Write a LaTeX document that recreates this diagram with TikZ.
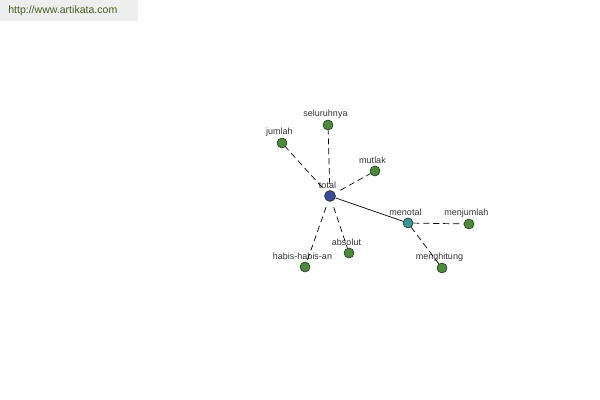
\documentclass[tikz,border=0pt]{standalone}
\usepackage{fontspec}
\setmainfont{Liberation Sans}
\definecolor{leaf-fill}{HTML}{4E8A3E}
\definecolor{root-fill}{HTML}{3C4A98}
\definecolor{hub-fill}{HTML}{3A9494}
\definecolor{node-border}{HTML}{1E2E1E}
\definecolor{banner-fill}{HTML}{EEEEEE}
\definecolor{banner-text}{HTML}{4B5B25}
\definecolor{label-text}{HTML}{333333}
\tikzset{
  word-node/.style={
    circle, draw=node-border, fill=leaf-fill, minimum size=10*0.025cm,
    inner sep=0pt, line width=0.4pt,
    label={[font=\fontsize{6.4}{7}\selectfont, text=label-text, inner sep=1pt,
      xshift=-2.5*0.025cm]above:#1}
  },
  root-node/.style={word-node=#1, fill=root-fill, minimum size=11*0.025cm},
  hub-node/.style={word-node=#1, fill=hub-fill},
  link-edge/.style={draw=black, line width=0.5pt},
  syn-edge/.style={link-edge, dash pattern=on 4.3pt off 2.8pt},
  root-edge/.style={syn-edge, shorten <=6*0.025cm}
}

\begin{document}
\begin{tikzpicture}[x=0.025cm, y=-0.025cm]
  \useasboundingbox (0,0) rectangle (600,400);
  \fill[white] (0,0) rectangle (600,400);

  % banner
  \fill[banner-fill] (0,0) rectangle (138,21);
  \node[anchor=west, inner sep=0pt, text=banner-text, font=\fontsize{7.5}{8}\selectfont]
    (site) at (8,11) {http://www.artikata.com};

  \node[root-node=total]          (total)      at (330,196) {};
  \node[word-node=seluruhnya]     (seluruhnya) at (328,125) {};
  \node[word-node=jumlah]         (jumlah)     at (282,143) {};
  \node[word-node=mutlak]         (mutlak)     at (375,171) {};
  \node[word-node=absolut]        (absolut)    at (349,253) {};
  \node[word-node=habis-habis-an] (habis)      at (305,267) {};
  \node[hub-node=menotal]         (menotal)    at (408,223) {};
  \node[word-node=menjumlah]      (menjumlah)  at (469,224) {};
  \node[word-node=menghitung]     (menghitung) at (442,268) {};

  \draw[root-edge] (total) -- (seluruhnya);
  \draw[root-edge] (total) -- (jumlah);
  \draw[root-edge] (total) -- (mutlak);
  \draw[root-edge] (total) -- (absolut);
  \draw[root-edge] (total) -- (habis);
  \draw[link-edge] (total) -- (menotal);
  \draw[syn-edge] (menotal) -- (menjumlah);
  \draw[syn-edge] (menotal) -- (menghitung);
\end{tikzpicture}
\end{document}
